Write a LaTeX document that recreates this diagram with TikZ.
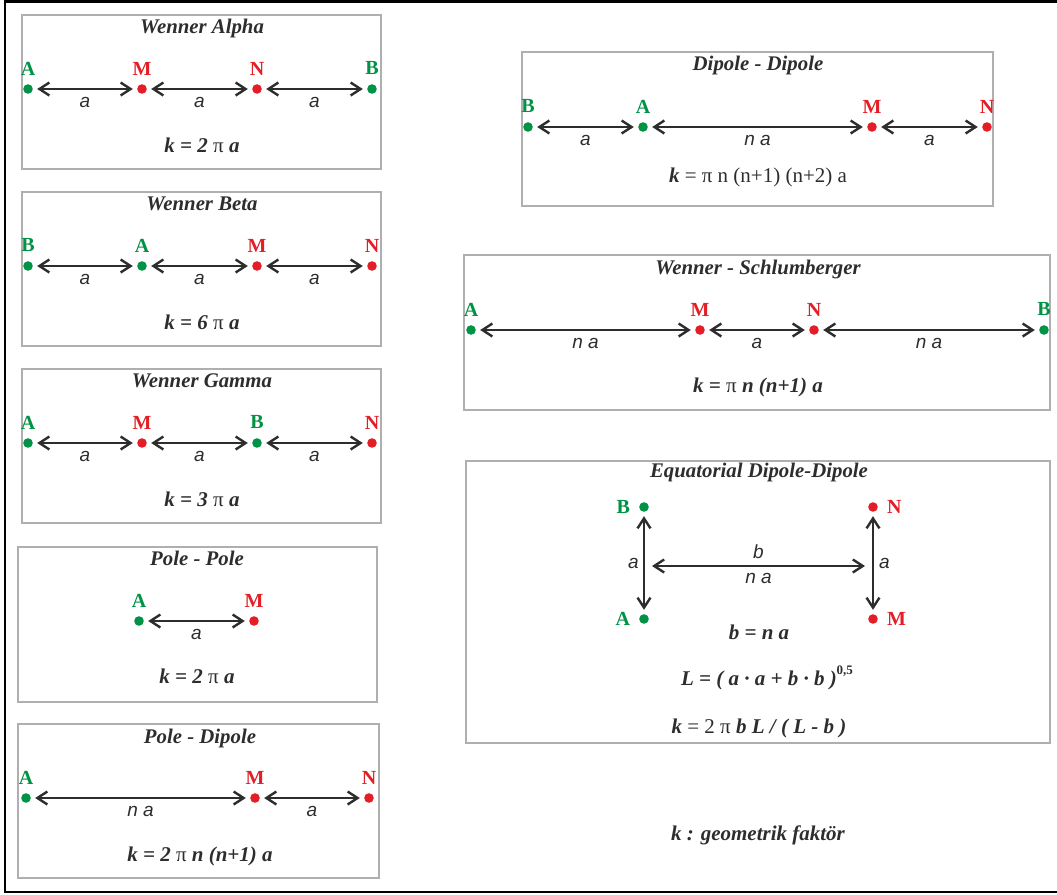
\documentclass[tikz,border=0pt]{standalone}
\usepackage{fontspec}
\setmainfont{Liberation Serif}
\newfontfamily\labelfont{Liberation Sans}
\usetikzlibrary{arrows.meta, positioning}
\definecolor{cgreen}{RGB}{0,146,69}
\definecolor{cred}{RGB}{228,30,38}
\definecolor{darkline}{RGB}{45,45,45}
\definecolor{panelgray}{RGB}{175,175,175}
\newcommand{\upi}{{\mdseries\upshape π}}

\begin{document}
\begin{tikzpicture}[
        x=0.5pt, y=-0.5pt,
        label distance=4.2pt,
        panel/.style={draw=panelgray, line width=0.75pt},
        elec/.style={inner sep=0pt, font=\bfseries\fontsize{10}{11}\selectfont},
        curr/.style={circle, fill=cgreen, inner sep=0pt, minimum size=4.8pt, label={[elec, text=cgreen]#1}},
        pot/.style={circle, fill=cred, inner sep=0pt, minimum size=4.8pt, label={[elec, text=cred]#1}},
        dim/.style={<->, >={Straight Barb[length=5pt, width=6.5pt]}, line width=1.2pt, draw=darkline, shorten >=2pt, shorten <=2pt},
        dist/.style={inner sep=0pt, text=darkline, font=\labelfont\itshape\fontsize{9.5}{10}\selectfont},
        title/.style={anchor=base, text=darkline, font=\bfseries\itshape\fontsize{10.4}{12}\selectfont},
        formula/.style={anchor=base, text=darkline, font=\bfseries\itshape\fontsize{10.5}{12}\selectfont}
    ]
    \useasboundingbox (0,0) rectangle (1057,895);
    \draw[line width=1.25pt, black] (5,1.5) rectangle (1075,892);

    \draw[panel] (22,15) rectangle (381,169);
    \node[title] (waT) at (202,33) {Wenner Alpha};
    \node[curr=above:A] (waA) at (28,89) {};
    \node[pot=above:M] (waM) at (142,89) {};
    \node[pot=above:N] (waN) at (257,89) {};
    \node[curr=above:B] (waB) at (372,89) {};
    \draw[dim] (waA) -- node[dist, below=3.5pt] {a} (waM);
    \draw[dim] (waM) -- node[dist, below=3.5pt] {a} (waN);
    \draw[dim] (waN) -- node[dist, below=3.5pt] {a} (waB);
    \node[formula] (waK) at (202,152) {k = 2 \upi{} a};

    \draw[panel] (22,192) rectangle (381,346);
    \node[title] (wbT) at (202,210) {Wenner Beta};
    \node[curr=above:B] (wbB) at (28,266) {};
    \node[curr=above:A] (wbA) at (142,266) {};
    \node[pot=above:M] (wbM) at (257,266) {};
    \node[pot=above:N] (wbN) at (372,266) {};
    \draw[dim] (wbB) -- node[dist, below=3.5pt] {a} (wbA);
    \draw[dim] (wbA) -- node[dist, below=3.5pt] {a} (wbM);
    \draw[dim] (wbM) -- node[dist, below=3.5pt] {a} (wbN);
    \node[formula] (wbK) at (202,329) {k = 6 \upi{} a};

    \draw[panel] (22,369) rectangle (381,523);
    \node[title] (wgT) at (202,387) {Wenner Gamma};
    \node[curr=above:A] (wgA) at (28,443) {};
    \node[pot=above:M] (wgM) at (142,443) {};
    \node[curr=above:B] (wgB) at (257,443) {};
    \node[pot=above:N] (wgN) at (372,443) {};
    \draw[dim] (wgA) -- node[dist, below=3.5pt] {a} (wgM);
    \draw[dim] (wgM) -- node[dist, below=3.5pt] {a} (wgB);
    \draw[dim] (wgB) -- node[dist, below=3.5pt] {a} (wgN);
    \node[formula] (wgK) at (202,506) {k = 3 \upi{} a};

    \draw[panel] (18,547) rectangle (377,702);
    \node[title] (ppT) at (197,565) {Pole - Pole};
    \node[curr=above:A] (ppA) at (139,621) {};
    \node[pot=above:M] (ppM) at (254,621) {};
    \draw[dim] (ppA) -- node[dist, below=3.5pt] {a} (ppM);
    \node[formula] (ppK) at (197,683) {k = 2 \upi{} a};

    \draw[panel] (18,724) rectangle (379,878);
    \node[title] (pdT) at (200,743) {Pole - Dipole};
    \node[curr=above:A] (pdA) at (26,798) {};
    \node[pot=above:M] (pdM) at (255,798) {};
    \node[pot=above:N] (pdN) at (369,798) {};
    \draw[dim] (pdA) -- node[dist, below=3.5pt] {n a} (pdM);
    \draw[dim] (pdM) -- node[dist, below=3.5pt] {a} (pdN);
    \node[formula] (pdK) at (200,861) {k = 2 \upi{} n (n+1) a};

    \draw[panel] (522,52) rectangle (993,206);
    \node[title] (ddT) at (758,70) {Dipole - Dipole};
    \node[curr=above:B] (ddB) at (528,127) {};
    \node[curr=above:A] (ddA) at (643,127) {};
    \node[pot=above:M] (ddM) at (872,127) {};
    \node[pot=above:N] (ddN) at (987,127) {};
    \draw[dim] (ddB) -- node[dist, below=3.5pt] {a} (ddA);
    \draw[dim] (ddA) -- node[dist, below=3.5pt] {n a} (ddM);
    \draw[dim] (ddM) -- node[dist, below=3.5pt] {a} (ddN);
    \node[formula] (ddK) at (758,182) {k {\mdseries\upshape = π n (n+1) (n+2) a}};

    \draw[panel] (464,255) rectangle (1050,410);
    \node[title] (wsT) at (758,274) {Wenner - Schlumberger};
    \node[curr=above:A] (wsA) at (471,330) {};
    \node[pot=above:M] (wsM) at (700,330) {};
    \node[pot=above:N] (wsN) at (814,330) {};
    \node[curr=above:B] (wsB) at (1044,330) {};
    \draw[dim] (wsA) -- node[dist, below=3.5pt] {n a} (wsM);
    \draw[dim] (wsM) -- node[dist, below=3.5pt] {a} (wsN);
    \draw[dim] (wsN) -- node[dist, below=3.5pt] {n a} (wsB);
    \node[formula] (wsK) at (758,392) {k = \upi{} n (n+1) a};

    \draw[panel] (466,461) rectangle (1050,743);
    \node[title] (edT) at (759,477) {Equatorial Dipole-Dipole};
    \node[label distance=3pt, curr=left:B] (edB) at (644,507) {};
    \node[label distance=3pt, curr=left:A] (edA) at (644,619) {};
    \node[label distance=3pt, pot=right:N] (edN) at (873,507) {};
    \node[label distance=3pt, pot=right:M] (edM) at (873,619) {};
    \coordinate (edL) at (644,566);
    \coordinate (edR) at (873,566);
    \draw[dim] (edB) -- node[dist, left=2pt] {a} (edA);
    \draw[dim] (edN) -- node[dist, right=2.5pt] {a} (edM);
    \draw[dim, shorten >=4pt, shorten <=4pt] (edL) -- node[dist, above=3pt] {b} node[dist, below=3pt] {n a} (edR);
    \node[formula] (edb) at (759,639) {b = n a};
    \node[formula] (edL2) at (767,685) {L = ( a · a + b · b )\raisebox{1.1ex}{\fontsize{6.5}{7}\selectfont\upshape 0,5}};
    \node[formula] (edK) at (759,733) {k {\mdseries\upshape = 2 π} b L / ( L - b )};

    \node[formula] (note) at (758,840) {k : geometrik faktör};
\end{tikzpicture}
\end{document}
